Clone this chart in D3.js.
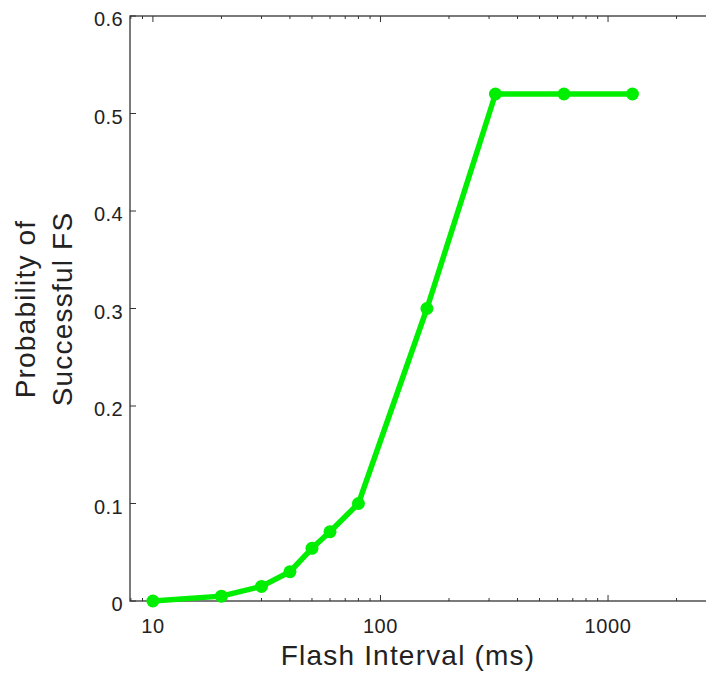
<!DOCTYPE html>
<html>
<head>
<meta charset="utf-8">
<script src="https://cdn.jsdelivr.net/npm/d3@7"></script>
<style>
  body { margin: 0; background: #fff; }
  text { font-family: "Liberation Sans", Arial, sans-serif; fill: #222; }
</style>
</head>
<body>
<svg width="706" height="673"></svg>
<script>
// data
var intervals = [10, 20, 30, 40, 50, 60, 80, 160, 320, 640, 1280]
var probability = [0, 0.005, 0.015, 0.03, 0.054, 0.071, 0.1, 0.3, 0.52, 0.52, 0.52]
var xTicks = [10, 100, 1000]
var yTicks = [0, 0.1, 0.2, 0.3, 0.4, 0.5, 0.6]

var svg = d3.select('svg')
var plotL = 130, plotT = 16, plotB = 601, plotR = 723

var x = d3.scaleLog().domain([7.93, 3200]).range([plotL, plotR])
var y = d3.scaleLinear().domain([0, 0.6]).range([plotB, plotT])

// minor log ticks
var minor = []
for (var d = 1; d <= 1000; d *= 10) {
    for (var k = 2; k <= 9; k++) minor.push(d * k)
}
minor = minor.filter(function (v) { return v > 7.93 && v < 3200 })

var axisColor = '#333'
var g = svg.append('g')

// box
g.append('rect')
    .attr('x', plotL).attr('y', plotT)
    .attr('width', plotR - plotL).attr('height', plotB - plotT)
    .attr('fill', 'none').attr('stroke', axisColor).attr('stroke-width', 1.3)

// x ticks bottom/top (inward)
g.selectAll('.xmaj').data(xTicks).enter().append('path')
    .attr('d', function (v) { var px = x(v); return 'M' + px + ',' + plotB + 'v-6M' + px + ',' + plotT + 'v6' })
    .attr('stroke', axisColor).attr('stroke-width', 1)
g.selectAll('.xmin').data(minor).enter().append('path')
    .attr('d', function (v) { var px = x(v); return 'M' + px + ',' + plotB + 'v-3M' + px + ',' + plotT + 'v3' })
    .attr('stroke', axisColor).attr('stroke-width', 1)

// y ticks
g.selectAll('.ymaj').data(yTicks).enter().append('path')
    .attr('d', function (v) { var py = y(v); return 'M' + plotL + ',' + py + 'h6M' + plotR + ',' + py + 'h-6' })
    .attr('stroke', axisColor).attr('stroke-width', 1)

// tick labels
g.selectAll('.xl').data(xTicks).enter().append('text')
    .attr('x', function (v) { return x(v) })
    .attr('y', 633)
    .attr('text-anchor', 'middle')
    .attr('font-size', 20)
    .attr('letter-spacing', 0.6)
    .text(function (v) { return v })

g.selectAll('.yl').data(yTicks).enter().append('text')
    .attr('x', 123)
    .attr('y', function (v) { return y(v) + 10 })
    .attr('text-anchor', 'end')
    .attr('font-size', 20)
    .attr('letter-spacing', 0.4)
    .text(function (v) { return v === 0 ? '0' : v.toFixed(1) })

// axis titles
svg.append('text')
    .attr('x', 408).attr('y', 665)
    .attr('text-anchor', 'middle')
    .attr('font-size', 28)
    .attr('letter-spacing', 1.2)
    .text('Flash Interval (ms)')

var yl = svg.append('text')
    .attr('transform', 'translate(35,309) rotate(-90)')
    .attr('text-anchor', 'middle')
    .attr('font-size', 28)
    .attr('letter-spacing', 1.2)
yl.append('tspan').attr('x', 0).attr('dy', 0).text('Probability of')
yl.append('tspan').attr('x', 0).attr('dy', 37).text('Successful FS')

// data line + markers
var pts = intervals.map(function (v, i) { return [v, probability[i]] })
var line = d3.line().x(function (d) { return x(d[0]) }).y(function (d) { return y(d[1]) })

svg.append('path')
    .datum(pts)
    .attr('d', line)
    .attr('fill', 'none')
    .attr('stroke', '#00ee00')
    .attr('stroke-width', 5.5)
    .attr('stroke-linejoin', 'round')

svg.selectAll('circle').data(pts).enter().append('circle')
    .attr('cx', function (d) { return x(d[0]) })
    .attr('cy', function (d) { return y(d[1]) })
    .attr('r', 6.5)
    .attr('fill', '#00ee00')
</script>
</body>
</html>
